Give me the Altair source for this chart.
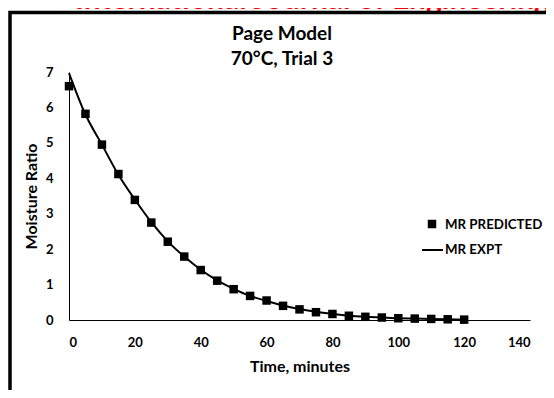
import altair as alt
import pandas as pd

# ---- data ----
time_min = [0, 5, 10, 15, 20, 25, 30, 35, 40, 45, 50, 55, 60,
            65, 70, 75, 80, 85, 90, 95, 100, 105, 110, 115, 120]
mr_predicted = [6.60, 5.82, 4.95, 4.12, 3.39, 2.75, 2.21, 1.79, 1.41, 1.11,
                0.87, 0.68, 0.55, 0.40, 0.30, 0.22, 0.17, 0.12, 0.09, 0.07,
                0.05, 0.04, 0.03, 0.02, 0.01]
mr_expt = [6.97, 5.80, 4.95, 4.10, 3.40, 2.76, 2.22, 1.79, 1.42, 1.12,
           0.88, 0.68, 0.54, 0.41, 0.31, 0.23, 0.17, 0.12, 0.09, 0.07,
           0.05, 0.04, 0.03, 0.02, 0.01]
x_ticks = [0, 20, 40, 60, 80, 100, 120, 140]
y_ticks = [0, 1, 2, 3, 4, 5, 6, 7]
legend_labels = ["MR PREDICTED", "MR EXPT"]
title_lines = ["Page Model", "70°C, Trial 3"]
journal_text = "International Journal of Engineering"

FONT = "Lato"
W, H = 461, 248

df = pd.DataFrame({"t": time_min, "pred": mr_predicted, "expt": mr_expt})
one = pd.DataFrame({"k": [0]})

x_enc = alt.X("t:Q", scale=alt.Scale(domain=[0, 140], nice=False, zero=True),
              axis=alt.Axis(values=x_ticks, title="Time, minutes", format="d"))
y_axis = alt.Axis(values=y_ticks, title="Moisture Ratio", format="d")
y_scale = alt.Scale(domain=[0, 7], nice=False)

line = alt.Chart(df).mark_line(color="black", strokeWidth=2, interpolate="monotone").encode(
    x=x_enc, y=alt.Y("expt:Q", scale=y_scale, axis=y_axis))
pts = alt.Chart(df).mark_square(size=72, color="black", opacity=1).encode(
    x=alt.X("t:Q"), y=alt.Y("pred:Q", scale=y_scale, axis=y_axis))

# legend (drawn manually)
leg_sq = alt.Chart(one).mark_square(size=72, color="black", opacity=1).encode(
    x=alt.value(363), y=alt.value(152))
leg_ln = alt.Chart(one).mark_rule(color="black", strokeWidth=2).encode(
    x=alt.value(353), x2=alt.value(374), y=alt.value(178))
leg_t1 = alt.Chart(one).mark_text(text=legend_labels[0], align="left", baseline="middle",
                                  font=FONT, fontWeight="bold", fontSize=13.3, color="black").encode(
    x=alt.value(376), y=alt.value(153))
leg_t2 = alt.Chart(one).mark_text(text=legend_labels[1], align="left", baseline="middle",
                                  font=FONT, fontWeight="bold", fontSize=13.3, color="black").encode(
    x=alt.value(376), y=alt.value(178))

# title lines
tt1 = alt.Chart(one).mark_text(text=title_lines[0], align="center", baseline="alphabetic",
                               font=FONT, fontWeight="bold", fontSize=19, color="black").encode(
    x=alt.value(213), y=alt.value(-32))
tt2 = alt.Chart(one).mark_text(text=title_lines[1], align="center", baseline="alphabetic",
                               font=FONT, fontWeight="bold", fontSize=19, color="black").encode(
    x=alt.value(213), y=alt.value(-7))

journal = alt.Chart(one).mark_text(text=journal_text, align="left", baseline="alphabetic",
                                   font=FONT, fontWeight="bold", fontSize=30, color="#ff0000").encode(
    x=alt.value(6), y=alt.value(-63))

border = alt.Chart(one).mark_rect(fill="white", fillOpacity=0, stroke="black", strokeWidth=3.5).encode(
    x=alt.value(-59), x2=alt.value(495), y=alt.value(-59.5), y2=alt.value(336))

chart = alt.layer(journal, border, line, pts, leg_sq, leg_ln, leg_t1, leg_t2, tt1, tt2).properties(
    width=W, height=H,
    autosize=alt.AutoSizeParams(type="none"),
    padding={"left": 61, "top": 64, "right": 16, "bottom": 70},
    background="white",
).configure_view(stroke=None).configure_axis(
    grid=False, ticks=False, tickSize=0,
    domainColor="black", domainWidth=1,
    labelFont=FONT, labelFontWeight="bold", labelFontSize=13, labelColor="black",
    labelPadding=16,
    titleFont=FONT, titleFontWeight="bold", titleFontSize=16, titleColor="black",
).configure_axisX(titlePadding=9).configure_axisY(titlePadding=6)

chart.save("out.html", embed_options={"renderer": "svg", "actions": False})
